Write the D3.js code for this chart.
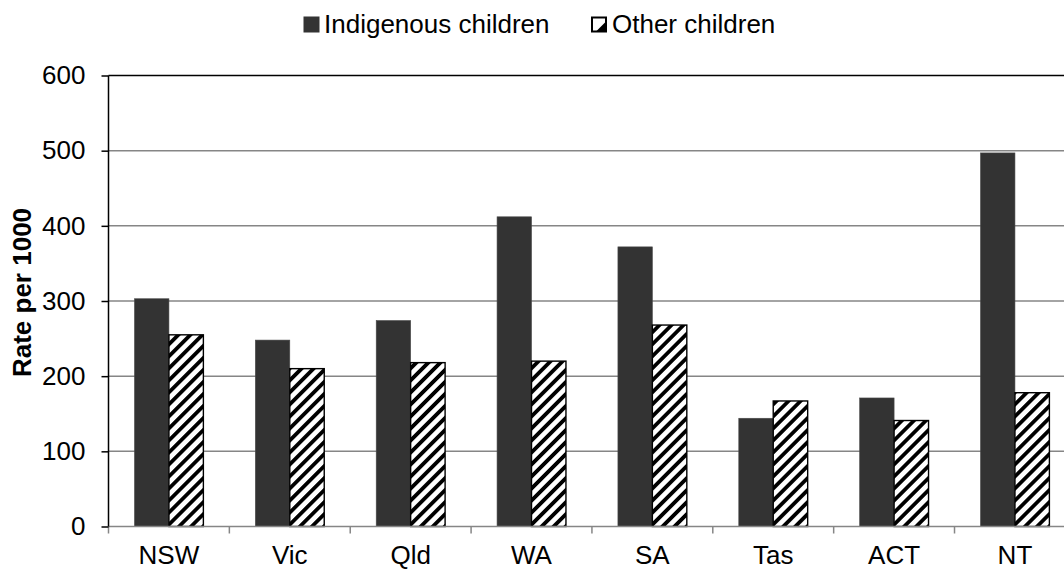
<!DOCTYPE html>
<html>
<head>
<meta charset="utf-8">
<style>
  body { margin: 0; background: #fff; }
  svg { display: block; font-family: "Liberation Sans", Arial, sans-serif; }
</style>
</head>
<body>
<div id="chart"></div>
<script src="https://d3js.org/d3.v7.min.js"></script>
<script>
// chart values
var states = ["NSW", "Vic", "Qld", "WA", "SA", "Tas", "ACT", "NT"];
var indigenous = [303, 248, 274, 412, 372, 144, 171, 497];
var other = [255, 210, 218, 220, 268, 167, 141, 178];
var yTicks = [0, 100, 200, 300, 400, 500, 600];
var seriesNames = ["Indigenous children", "Other children"];

var W = 1064, H = 570;
var FS = 26;
var margin = { top: 75.5, left: 108.5, bottom: 43.5 };
var step = 120.86;
var plotW = step * states.length;   // runs off the right edge, as in the source
var plotH = H - margin.top - margin.bottom;

var svg = d3.select("#chart").append("svg")
    .attr("width", W)
    .attr("height", H);

// hatch for the "other" series
var defs = svg.append("defs");
defs.append("pattern")
    .attr("id", "hatch")
    .attr("patternUnits", "userSpaceOnUse")
    .attr("width", 8.5)
    .attr("height", 8.5)
    .attr("patternTransform", "rotate(45)")
  .append("rect")
    .attr("width", 3.8)
    .attr("height", 8.5)
    .attr("fill", "#000");

var g = svg.append("g")
    .attr("transform", "translate(" + margin.left + "," + margin.top + ")");

var x0 = d3.scaleBand()
    .domain(states)
    .range([0, plotW])
    .paddingInner(0.43)
    .paddingOuter(0.215);

var x1 = d3.scaleBand()
    .domain([0, 1])
    .range([0, x0.bandwidth()]);

var y = d3.scaleLinear()
    .domain([0, 600])
    .range([plotH, 0]);

// gridlines
g.append("g").selectAll("line")
    .data(yTicks.slice(1, -1))
    .enter().append("line")
    .attr("x1", 0).attr("x2", plotW)
    .attr("y1", function (d) { return y(d); })
    .attr("y2", function (d) { return y(d); })
    .attr("stroke", "#868686")
    .attr("stroke-width", 1.5);

// plot border top + right
g.append("path")
    .attr("d", "M0," + y(600) + "H" + plotW + "V" + plotH)
    .attr("fill", "none")
    .attr("stroke", "#000")
    .attr("stroke-width", 1.5);

// bars
var rows = states.map(function (s, i) { return { state: s, vals: [indigenous[i], other[i]] }; });

var groups = g.selectAll(".state")
    .data(rows)
    .enter().append("g")
    .attr("transform", function (d) { return "translate(" + x0(d.state) + ",0)"; });

var bars = groups.selectAll(".bar")
    .data(function (d) { return d.vals.map(function (v, k) { return { k: k, v: v }; }); })
    .enter().append("g").attr("class", "bar");

// white under the hatch
bars.filter(function (d) { return d.k === 1; }).append("rect")
    .attr("x", x1(1)).attr("width", x1.bandwidth())
    .attr("y", function (d) { return y(d.v); })
    .attr("height", function (d) { return plotH - y(d.v); })
    .attr("fill", "#fff");

bars.append("rect")
    .attr("x", function (d) { return x1(d.k); })
    .attr("width", x1.bandwidth())
    .attr("y", function (d) { return y(d.v); })
    .attr("height", function (d) { return plotH - y(d.v); })
    .attr("fill", function (d) { return d.k === 0 ? "#333333" : "url(#hatch)"; })
    .attr("stroke", function (d) { return d.k === 0 ? "#4a4a4a" : "#000"; })
    .attr("stroke-width", function (d) { return d.k === 0 ? 0.6 : 1.4; });

// x axis: grey line, ticks between categories
g.append("line")
    .attr("x1", 0).attr("x2", plotW)
    .attr("y1", plotH).attr("y2", plotH)
    .attr("stroke", "#868686").attr("stroke-width", 1.5);

g.append("g").selectAll("line")
    .data(d3.range(states.length + 1))
    .enter().append("line")
    .attr("x1", function (i) { return i * step; })
    .attr("x2", function (i) { return i * step; })
    .attr("y1", plotH).attr("y2", plotH + 7)
    .attr("stroke", "#868686").attr("stroke-width", 1.5);

g.append("g").selectAll("text")
    .data(states)
    .enter().append("text")
    .attr("x", function (d) { return x0(d) + x0.bandwidth() / 2; })
    .attr("y", plotH + 37.5)
    .attr("text-anchor", "middle")
    .attr("font-size", FS)
    .attr("fill", "#000")
    .text(function (d) { return d; });

// y axis
var yAxis = d3.axisLeft(y).tickValues(yTicks).tickSize(7).tickPadding(16);
var gy = g.append("g").call(yAxis);
gy.select(".domain").attr("stroke", "#000").attr("stroke-width", 1.5).attr("d", "M0," + plotH + "V" + y(600));
gy.selectAll(".tick line").attr("stroke", "#000").attr("stroke-width", 1.5);
gy.selectAll(".tick text")
    .attr("font-size", FS)
    .attr("font-family", "'Liberation Sans', Arial, sans-serif")
    .attr("fill", "#000");

svg.append("text")
    .attr("transform", "translate(31,292.5) rotate(-90)")
    .attr("text-anchor", "middle")
    .attr("font-size", FS)
    .attr("font-weight", "bold")
    .text("Rate per 1000");

// legend
var leg = svg.append("g");
leg.append("rect")
    .attr("x", 303.5).attr("y", 16.5).attr("width", 16).attr("height", 16)
    .attr("fill", "#333333");
leg.append("text")
    .attr("x", 324).attr("y", 32.5)
    .attr("font-size", FS)
    .text(seriesNames[0]);

leg.append("rect")
    .attr("x", 592).attr("y", 17.5).attr("width", 14).attr("height", 14)
    .attr("fill", "#fff").attr("stroke", "#000").attr("stroke-width", 2);
leg.append("path")
    .attr("d", "M596,31.5 L606,21.5 L606,31.5 Z")
    .attr("fill", "#000");
leg.append("text")
    .attr("x", 612).attr("y", 32.5)
    .attr("font-size", FS)
    .text(seriesNames[1]);
</script>
</body>
</html>
